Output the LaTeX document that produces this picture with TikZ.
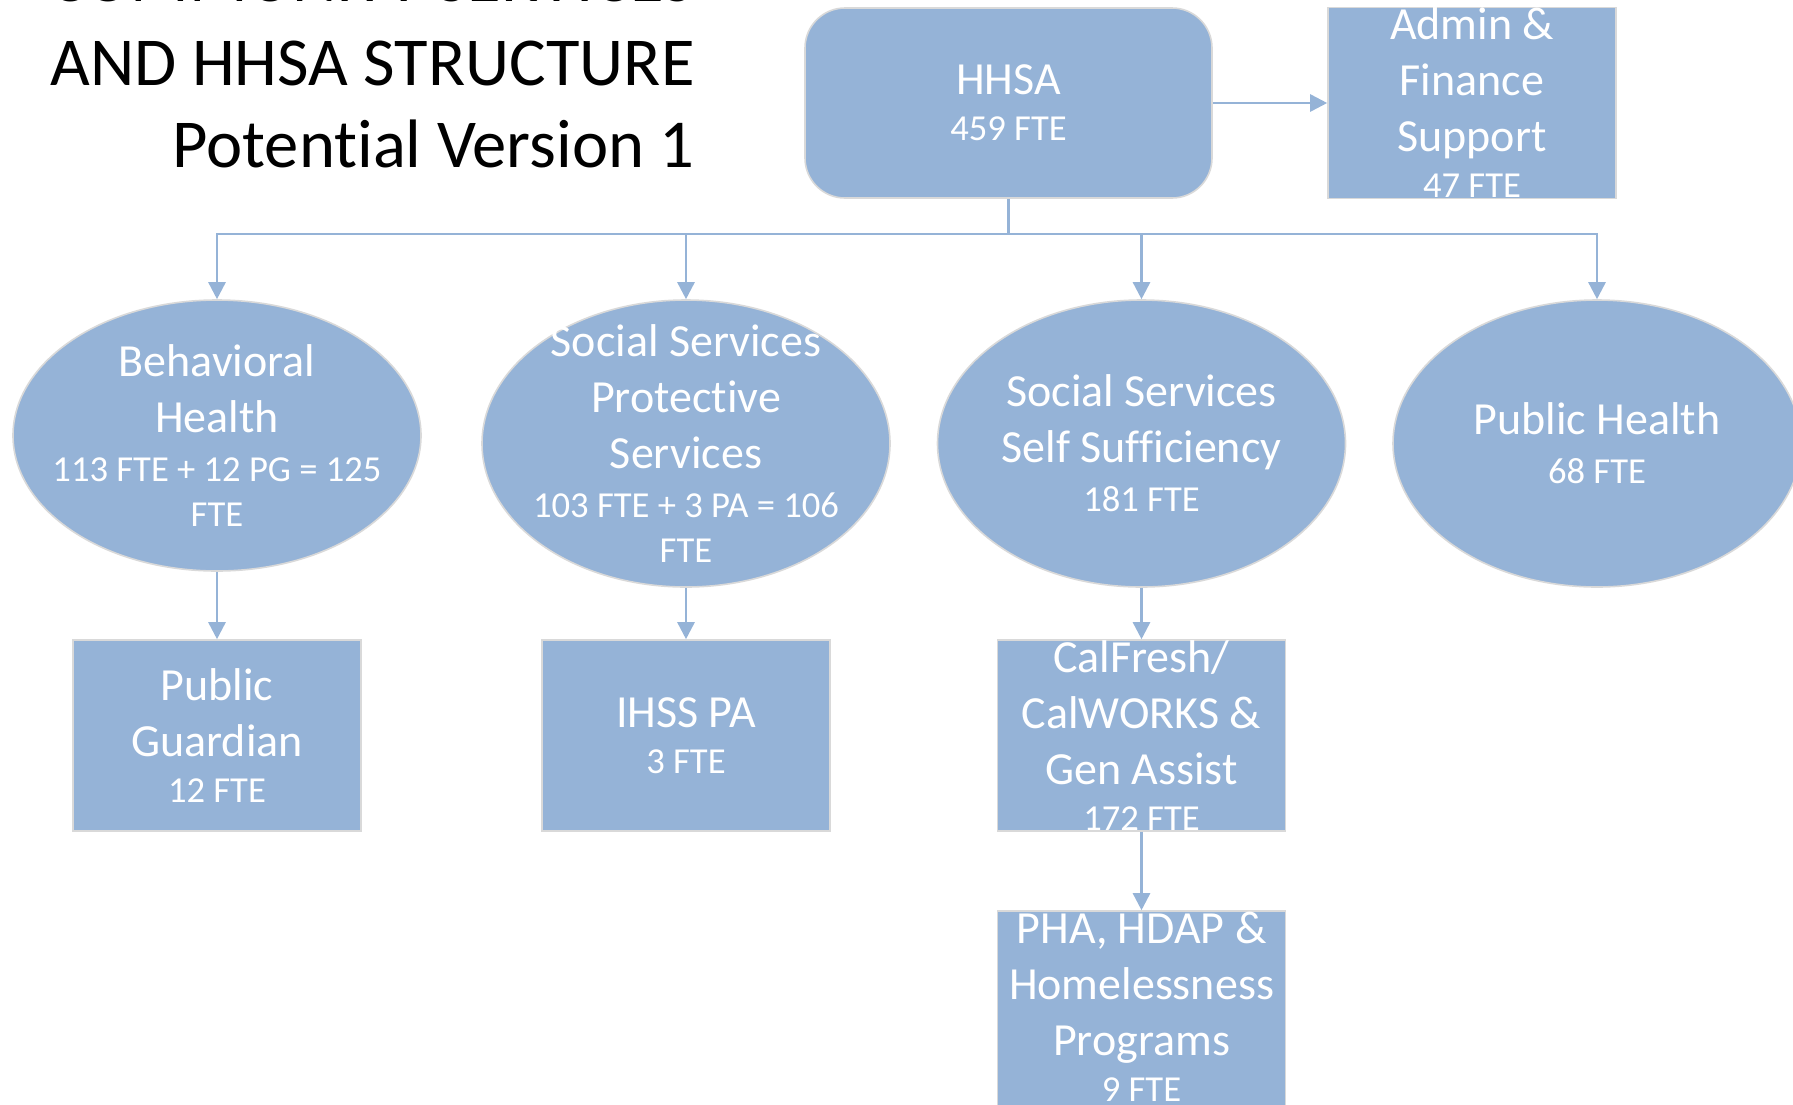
\documentclass[tikz,border=0pt]{standalone}
\usepackage{fontspec}
\setmainfont{Carlito}[Ligatures=NoCommon]
\usepackage{tikz}
\usetikzlibrary{shapes,arrows.meta}
\usepackage{xcolor}
\definecolor{hhsablue}{HTML}{95B3D7}
\newcommand{\bigtxt}{\fontsize{23}{28}\selectfont}
\newcommand{\ftetxt}{\fontsize{18.3}{22.3}\selectfont}

\begin{document}
\begin{tikzpicture}[x=0.5pt, y=-0.5pt,
  unit/.style={fill=hhsablue, draw=black!15, line width=0.8pt, inner sep=0pt},
  dept/.style={unit, ellipse, minimum width=204pt, minimum height=143.5pt},
  office/.style={unit, rectangle, minimum width=144pt, minimum height=95.5pt},
  caption/.style={text=white, align=center, font=\bigtxt, inner sep=0pt},
  wire/.style={draw=hhsablue, line width=1.3pt},
  link/.style={wire, -{Triangle[length=8.5pt, width=8.5pt]}}]
  \useasboundingbox (0,0) rectangle (1793,1104);
  \node [font=\fontsize{34.3}{41}\selectfont, align=right, inner sep=0pt, anchor=north east] (title) at (695,-43) {COMMUNITY SERVICES\\[1pt]AND HHSA STRUCTURE\\Potential Version 1};
  \node [unit, rounded corners=20pt, minimum width=203.5pt, minimum height=95pt, label={[caption]center:{HHSA\\[-5pt]\ftetxt 459 FTE}}] (hhsa) at (1008.5,103) {};
  \node [office, label={[caption]center:{Admin \&\\Finance\\Support\\[-5pt]\ftetxt 47 FTE}}] (admin) at (1472,103) {};
  \node [dept, minimum height=135.5pt, label={[caption]center:{Behavioral\\Health\\[-3.5pt]\ftetxt 113 FTE + 12 PG = 125\\[-5.7pt]\ftetxt FTE}}] (behav) at (217,435.5) {};
  \node [dept, label={[caption]center:{Social Services\\Protective\\Services\\[-3.5pt]\ftetxt 103 FTE + 3 PA = 106\\[-5.7pt]\ftetxt FTE}}] (protect) at (686,443.5) {};
  \node [dept, label={[caption]center:{Social Services\\Self Sufficiency\\[-3.5pt]\ftetxt 181 FTE}}] (selfsuf) at (1141.5,443.5) {};
  \node [dept, label={[caption]center:{Public Health\\[-3.5pt]\ftetxt 68 FTE}}] (pubhlth) at (1597,443.5) {};
  \node [office, label={[caption]center:{Public\\Guardian\\[-5pt]\ftetxt 12 FTE}}] (guardian) at (217,735.5) {};
  \node [office, label={[caption]center:{IHSS PA\\[-5pt]\ftetxt 3 FTE}}] (ihss) at (686,735.5) {};
  \node [office, label={[caption]center:{CalFresh/\\CalWORKS \&\\Gen Assist\\[-5pt]\ftetxt 172 FTE}}] (calfresh) at (1141.5,735.5) {};
  \node [office, minimum height=105.5pt, label={[caption, yshift=5pt]center:{PHA, HDAP \&\\Homelessness\\Programs\\[-5pt]\ftetxt 9 FTE}}] (pha) at (1141.5,1016.5) {};
  \coordinate (bus) at (hhsa.south |- 0,234);
  \draw [wire] (hhsa) -- (bus);
  \draw [link] (hhsa) -- (admin);
  \foreach \d in {behav,protect,selfsuf,pubhlth}
    \draw [link] (bus) -| (\d.north);
  \foreach \a/\b in {behav/guardian,protect/ihss,selfsuf/calfresh,calfresh/pha}
    \draw [link] (\a) -- (\b);
\end{tikzpicture}
\end{document}
